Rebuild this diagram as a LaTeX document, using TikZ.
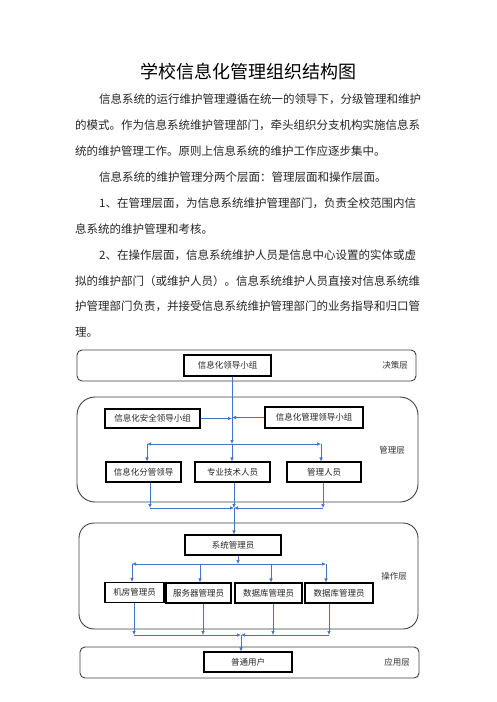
\documentclass[tikz,border=0pt]{standalone}
\usepackage{fontspec}
\setmainfont{Noto Sans CJK SC}
\usetikzlibrary{arrows.meta}
\definecolor{linkblue}{RGB}{68,114,196}
\tikzset{
  layer/.style={draw=black!75,line width=0.9pt,rounded corners=#1},
  layer/.default=5pt,
  unit/.style={draw,line width=1.1pt,fill=white,text=black!85,minimum height=20pt,inner sep=0pt,font=\fontsize{8.5}{10}\selectfont},
  tag/.style={text=black!80,font=\fontsize{8.5}{10}\selectfont},
  flow/.style={draw=linkblue,line width=0.6pt,-{Latex[length=4pt,width=3.5pt]}},
  line/.style={anchor=west,inner sep=0pt,text=black!85,font=\fontsize{11.5}{12}\selectfont}
}
\begin{document}
\begin{tikzpicture}[x=1pt,y=-1pt]
\path[use as bounding box,fill=white] (0,0) rectangle (496,702);
% title and text
\node[font=\fontsize{18}{20}\selectfont] (title) at (248,72) {学校信息化管理组织结构图};
\node[line] (l1) at (99,99.3) {信息系统的运行维护管理遵循在统一的领导下，分级管理和维护};
\node[line] (l2) at (75,125.3) {的模式。作为信息系统维护管理部门，牵头组织分支机构实施信息系};
\node[line] (l3) at (75,151) {统的维护管理工作。原则上信息系统的维护工作应逐步集中。};
\node[line] (l4) at (99,177) {信息系统的维护管理分两个层面：管理层面和操作层面。};
\node[line] (l5) at (99,203) {1、在管理层面，为信息系统维护管理部门，负责全校范围内信};
\node[line] (l6) at (75,229) {息系统的维护管理和考核。};
\node[line] (l7) at (99,255) {2、在操作层面，信息系统维护人员是信息中心设置的实体或虚};
\node[line] (l8) at (75,280.7) {拟的维护部门（或维护人员）。信息系统维护人员直接对信息系统维};
\node[line] (l9) at (75,306.5) {护管理部门负责，并接受信息系统维护管理部门的业务指导和归口管};
\node[line] (l10) at (75,332.5) {理。};
% layers
\draw[layer] (77,350) rectangle (416,381);
\draw[layer=18pt] (77,397) rectangle (418,502);
\draw[layer=15pt] (79,523) rectangle (418,629);
\draw[layer] (80,647) rectangle (419,678);
\node[tag] (decide) at (395,365) {决策层};
\node[tag] (manage) at (392,450) {管理层};
\node[tag] (operate) at (394,576) {操作层};
\node[tag] (apply) at (397,662) {应用层};
% boxes
\node[unit,minimum width=87pt,minimum height=21pt] (lead) at (227.5,365.5) {信息化领导小组};
\node[unit,minimum width=95pt,minimum height=19pt] (safe) at (152.5,418.5) {信息化安全领导小组};
\node[unit,minimum width=98pt,minimum height=21pt] (mgr) at (314,417.5) {信息化管理领导小组};
\node[unit,minimum width=75pt] (fen) at (143.5,472) {信息化分管领导};
\node[unit,minimum width=75pt] (tech) at (232.5,472) {专业技术人员};
\node[unit,minimum width=74pt] (staff) at (324,472) {管理人员};
\node[unit,minimum width=96pt] (sys) at (233,545) {系统管理员};
\node[unit,minimum width=59pt] (room) at (134.5,592.5) {机房管理员};
\node[unit,minimum width=65pt] (server) at (198.5,593) {服务器管理员};
\node[unit,minimum width=67pt] (db1) at (268.5,593) {数据库管理员};
\node[unit,minimum width=68pt] (db2) at (339,593) {数据库管理员};
\node[unit,minimum width=88pt] (user) at (248,662) {普通用户};
% junctions
\coordinate (top) at (232,444);
\coordinate (topL) at (147,444);
\coordinate (topR) at (321,444);
\coordinate (mid) at (234,508);
\coordinate (midL) at (150,508);
\coordinate (midR) at (323,508);
\coordinate (op) at (238,564);
\coordinate (opL) at (132,564);
\coordinate (opA) at (200,564);
\coordinate (opB) at (271,564);
\coordinate (opR) at (326,564);
\coordinate (low) at (241,635);
\coordinate (lowL) at (134,635);
\coordinate (lowA) at (203,635);
\coordinate (lowB) at (273,635);
\coordinate (lowR) at (329,635);
% management layer
\draw[flow] (lead.south -| top) -- (top);
\draw[flow] (top) -- (tech.north -| top);
\draw[flow] (safe.east) -- (safe.east -| top);
\draw[flow] (mgr.west) -- (mgr.west -| top);
\draw[flow] (top) -- (topL);
\draw[flow] (top) -- (topR);
\draw[flow] (topL) -- (fen.north -| topL);
\draw[flow] (topR) -- (staff.north -| topR);
\draw[flow] (fen.south -| midL) -- (midL);
\draw[flow] (tech.south -| mid) -- (mid);
\draw[flow] (staff.south -| midR) -- (midR);
\draw[flow] (midL) -- (mid);
\draw[flow] (midR) -- (mid);
\draw[flow] (mid) -- (sys.north -| mid);
% operation layer
\draw[flow] (sys.south -| op) -- (op);
\draw[flow] (op) -- (opL);
\draw[flow] (op) -- (opR);
\draw[flow] (opL) -- (room.north -| opL);
\draw[flow] (opA) -- (server.north -| opA);
\draw[flow] (opB) -- (db1.north -| opB);
\draw[flow] (opR) -- (db2.north -| opR);
\draw[flow] (room.south -| lowL) -- (lowL);
\draw[flow] (server.south -| lowA) -- (lowA);
\draw[flow] (db1.south -| lowB) -- (lowB);
\draw[flow] (db2.south -| lowR) -- (lowR);
\draw[flow] (lowL) -- (low);
\draw[flow] (lowR) -- (low);
\draw[flow] (low) -- (user.north -| low);
\end{tikzpicture}
\end{document}
